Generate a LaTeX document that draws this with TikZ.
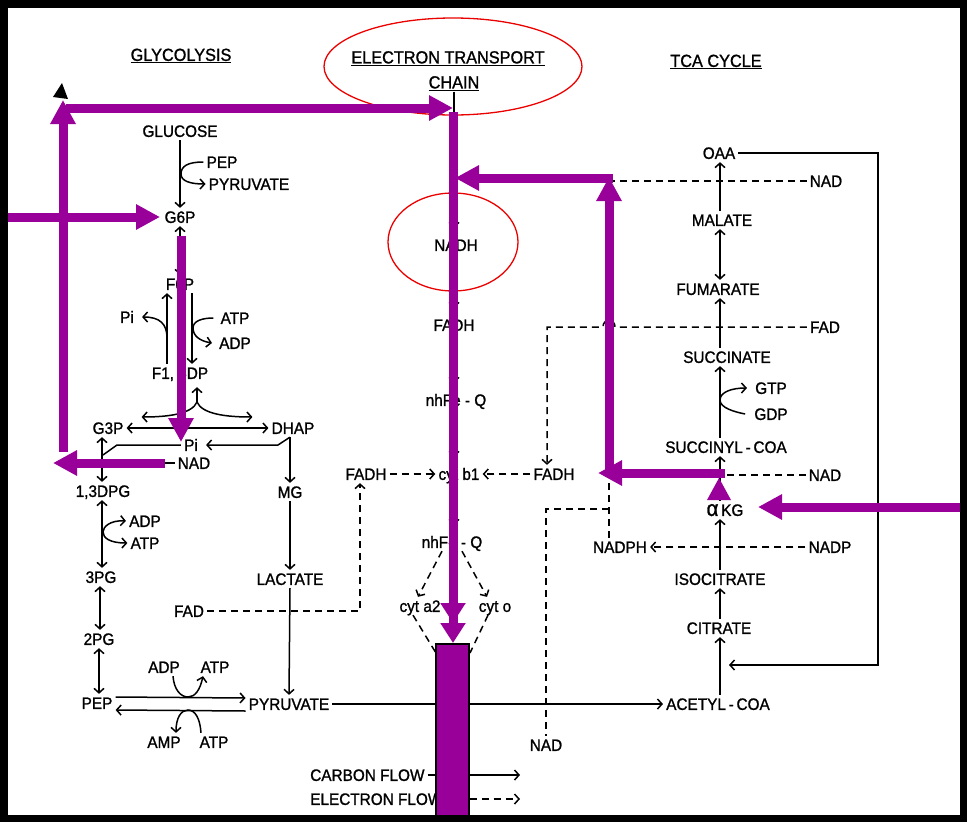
\documentclass[tikz,border=0pt]{standalone}
\usepackage{fontspec}
\setmainfont{Liberation Sans}
\newfontfamily\lblfont{Liberation Sans}[FakeBold=1.2,FakeStretch=0.93]
\usetikzlibrary{arrows.meta,calc}
\definecolor{pur}{RGB}{153,0,153}
\definecolor{ered}{RGB}{235,0,0}
\begin{document}
\begin{tikzpicture}[x=1pt,y=-1pt,line width=1.5pt,
  lbl/.style={inner sep=2.5pt,text height=11.8pt,text depth=0pt,font=\lblfont\fontsize{16.5}{18}\selectfont},
  ttl/.style={lbl,font=\lblfont\fontsize{17.5}{19}\selectfont},
  ar/.style={-{Straight Barb[length=4.5pt,width=10pt]}},
  lr/.style={{Straight Barb[length=4.5pt,width=10pt]}-{Straight Barb[length=4.5pt,width=10pt]}},
  dsh/.style={dash pattern=on 7pt off 5pt},
  parr/.style={line width=9pt,draw=pur,-{Triangle[length=24pt,width=24pt]}},
  ring/.style={draw=ered,line width=1.3pt}]
\useasboundingbox (0,0) rectangle (967,822);
% ---------- titles
\node[ttl] (glyc) at (181,55) {\underline{GLYCOLYSIS}};
\node[ttl] (etc1) at (448,57.5) {\underline{ELECTRON TRANSPORT}};
\node[ttl] (etc2) at (454,82.5) {\underline{CHAIN}};
\node[ttl] (tca) at (716,61) {\underline{TCA CYCLE}};
% ---------- glycolysis
\node[lbl] (glucose) at (180,131) {GLUCOSE};
\node[lbl] (pep1) at (222,162) {PEP};
\node[lbl] (pyr1) at (249,184) {PYRUVATE};
\node[lbl] (g6p) at (180,217) {G6P};
\node[lbl] (f6p) at (180,284) {F6P};
\node[lbl] (pi1) at (127,317) {Pi};
\node[lbl] (atp1) at (235,318) {ATP};
\node[lbl] (adp1) at (235,343) {ADP};
\node[lbl] (f16dp) at (180,373) {F1, 6DP};
\node[lbl] (g3p) at (108,428) {G3P};
\node[lbl] (dhap) at (293,428) {DHAP};
\node[lbl] (pi2) at (191,445) {Pi};
\node[lbl] (nad1) at (194,463) {NAD};
\node[lbl] (dpg13) at (103,491) {1,3DPG};
\node[lbl] (mg) at (290,492) {MG};
\node[lbl] (adp2) at (145,521) {ADP};
\node[lbl] (atp2) at (145,543) {ATP};
\node[lbl] (pg3) at (101,577) {3PG};
\node[lbl] (lact) at (290,579) {LACTATE};
\node[lbl] (fad1) at (189,611) {FAD};
\node[lbl] (pg2) at (99,639) {2PG};
\node[lbl] (adp3) at (164,667) {ADP};
\node[lbl] (atp3) at (215,667) {ATP};
\node[lbl] (pep2) at (97,703) {PEP};
\node[lbl] (pyr2) at (289,704) {PYRUVATE};
\node[lbl] (amp) at (164,742) {AMP};
\node[lbl] (atp4) at (214,742) {ATP};
% ---------- ETC
\node[lbl] (nadh) at (456,245) {NADH};
\node[lbl] (fadh1) at (454,325) {FADH};
\node[lbl] (nhfe1) at (456,400) {nhFe - Q};
\node[lbl] (cytb1) at (459,474) {cyt b1};
\node[lbl] (fadhL) at (366,474) {FADH};
\node[lbl] (fadhR) at (554,474) {FADH};
\node[lbl] (nhfe2) at (452,542) {nhFe - Q};
\node[lbl] (cyta2) at (420,606) {cyt a2};
\node[lbl] (cyto) at (495,606) {cyt o};
% ---------- TCA
\node[lbl] (oaa) at (719,153) {OAA};
\node[lbl] (nad2) at (826,181) {NAD};
\node[lbl] (malate) at (722,220) {MALATE};
\node[lbl] (fum) at (718,289) {FUMARATE};
\node[lbl] (fad2) at (825,327) {FAD};
\node[lbl] (succ) at (727,357) {SUCCINATE};
\node[lbl] (gtp) at (771,388) {GTP};
\node[lbl] (gdp) at (771,414) {GDP};
\node[lbl] (succoa) at (726,447) {SUCCINYL\,-\,COA};
\node[lbl] (nad3) at (825,475) {NAD};
\node[lbl] (akg) at (725,510) {{\fontsize{22}{22}\selectfont α}\,KG};
\node[lbl] (nadp) at (830,547) {NADP};
\node[lbl] (nadph) at (620,547) {NADPH};
\node[lbl] (isocit) at (720,579) {ISOCITRATE};
\node[lbl] (citrate) at (719,628) {CITRATE};
\node[lbl] (acoa) at (718,704) {ACETYL\,-\,COA};
\node[lbl] (nad4) at (546,745) {NAD};
% ---------- legend
\node[lbl,anchor=west] (carbon) at (307,775) {CARBON FLOW};
\node[lbl,anchor=west] (eflow) at (307,799) {ELECTRON FLOW};
\coordinate (c1) at (520,775);
\coordinate (c2) at (520,799);
% ---------- helper coordinates
\coordinate (ex) at (454,0);
\coordinate (tx) at (720,0);
\coordinate (cst) at (720,665);
\coordinate (boxtl) at (436,644);
\coordinate (boxtr) at (469,644);
% ---------- glycolysis connectors
\draw[ar] (glucose.south) -- (g6p.north);
\draw[ar] (pep1.west) .. controls (188,162) and (181,166) .. (181,174) .. controls (181,181) and (190,184) .. (pyr1.west);
\draw[lr] (g6p.south) -- (f6p.north);
\draw[ar] ([xshift=-13pt]f16dp.north) -- ([xshift=-13pt]f6p.south);
\draw[ar] (167,338) .. controls (167,324) and (160,317) .. ([xshift=5pt]pi1.east);
\draw[ar] ([xshift=12pt]f6p.south) -- ([xshift=12pt]f16dp.north);
\draw[ar] ([xshift=-4pt]atp1.west) .. controls (202,318) and (193,321) .. (193,328) .. controls (193,336) and (200,341) .. ([xshift=-4pt]adp1.west);
\draw[ar] (197,402) -- ([xshift=17pt,yshift=-5pt]f16dp.south);
\draw[ar] (197,402) .. controls (192,414) and (168,417) .. ([xshift=15pt,yshift=11pt]g3p.east);
\draw[ar] (197,402) .. controls (202,414) and (226,417) .. ([xshift=-16pt,yshift=11pt]dhap.west);
\draw[lr] (g3p.east) -- (dhap.west);
\draw[ar] ([xshift=-3pt]dhap.south) -- (278,445) -- ([xshift=5pt]pi2.east);
\draw[ar] ([xshift=-3pt]dhap.south) -- (mg.north);
\draw (pi2.west) -- (117,445) -- (103,455);
\draw (nad1.west) -- (103,463);
\draw[lr] ([xshift=-6pt]g3p.south) -- ([xshift=-1pt]dpg13.north);
\draw[lr] ([xshift=-1pt]dpg13.south) -- ([xshift=1pt]pg3.north);
\draw[lr] (adp2.west) .. controls (110,520) and (103,527) .. (103,532) .. controls (103,538) and (110,543) .. (atp2.west);
\draw[lr] ([xshift=-1pt]pg3.south) -- ([xshift=1pt]pg2.north);
\draw[lr] (pg2.south) -- ([xshift=2pt]pep2.north);
\draw[ar] ([yshift=6pt]pep2.east) -- ([yshift=6pt]pyr2.west);
\draw[ar] ([yshift=-7pt]pyr2.west) -- ([yshift=-7pt]pep2.east);
\draw[ar] ([xshift=9pt]adp3.south) .. controls (174,690) and (181,697) .. (188,697) .. controls (195,697) and (200,690) .. ([xshift=-12pt]atp3.south);
\draw[ar] ([xshift=-13pt]atp4.north) .. controls (200,718) and (195,710) .. (188,710) .. controls (181,710) and (176,718) .. ([xshift=12pt]amp.north);
\draw[ar] (mg.south) -- (lact.north);
\draw[ar] (lact.south) -- (pyr2.north);
\draw[ar,dsh] (fad1.east) -- (360,611) -- ([xshift=-6pt]fadhL.south);
\draw[ar] (pyr2.east) -- (acoa.west);
% ---------- ETC connectors
\draw[ar,shorten >=8pt] (etc2.south -| ex) -- (nadh.north -| ex);
\draw[ar,shorten >=8pt] (nadh.south -| ex) -- (fadh1.north -| ex);
\draw[ar,shorten >=8pt] (fadh1.south -| ex) -- (nhfe1.north -| ex);
\draw[ar,shorten >=8pt] (nhfe1.south -| ex) -- (cytb1.north -| ex);
\draw[ar,shorten >=8pt] (cytb1.south -| ex) -- (nhfe2.north -| ex);
\draw[ar,dsh] (fadhL.east) -- (cytb1.west);
\draw[ar,dsh] (fadhR.west) -- (cytb1.east);
\draw[ar,dsh] ([xshift=-10pt]nhfe2.south) -- ([xshift=-2pt]cyta2.north);
\draw[ar,dsh] ([xshift=10pt]nhfe2.south) -- ([xshift=-8pt]cyto.north);
\draw[dsh] ([xshift=-7pt]cyta2.south) -- ([yshift=-9pt]boxtl);
\draw[dsh] ([xshift=-7pt]cyto.south) -- ([yshift=-9pt,xshift=1pt]boxtr);
% ---------- TCA connectors
\draw[ar] (oaa.east) -- (878,153) -- (878,665) -- ([xshift=9pt]cst);
\draw[dsh] (nad2.west) -- (612,181);
\draw[ar] (malate.north -| tx) -- (oaa.south -| tx);
\draw[lr] (malate.south -| tx) -- (fum.north -| tx);
\draw[ar] (succ.north -| tx) -- (fum.south -| tx);
\draw[ar,dsh] (fad2.west) -- (615,327) .. controls (615,318) and (603,318) .. (603,327) -- (547,327) -- ([xshift=-7pt]fadhR.north);
\draw[ar] (succoa.north -| tx) -- (succ.south -| tx);
\draw[ar] ([xshift=-6pt]gdp.west) .. controls (735,412) and (720,408) .. (720,400) .. controls (720,392) and (732,388) .. ([xshift=-5pt]gtp.west);
\draw[ar] (akg.north -| tx) -- (succoa.south -| tx);
\draw[dsh] (nad3.west) -- (612,475);
\draw[ar] (isocit.north -| tx) -- (akg.south -| tx);
\draw[ar,dsh] (nadp.west) -- (nadph.east);
\draw[ar] (citrate.north -| tx) -- (isocit.south -| tx);
\draw[ar] (acoa.north -| tx) -- (citrate.south -| tx);
\draw[dsh] ([xshift=-11pt]nadph.north) -- (609,478);
\draw[dsh] (609,509) -- (546,509) -- (nad4.north);
% ---------- legend arrows
\draw[ar] (carbon.east) -- (c1);
\draw[ar,dsh] (eflow.east) -- (c2);
% ---------- red rings
\draw[ring] (453,66.5) ellipse [x radius=129, y radius=48.5];
\draw[ring] (453,242) ellipse [x radius=65, y radius=49];
% ---------- purple overlay
\fill (62,83) -- (53,97) -- (68,99) -- cycle;
\draw[parr] (63,452) -- (63,100);
\draw[parr] (66,108) -- (453,108);
\draw[parr] (8,217) -- (160,217);
\draw[parr] (181,236) -- (181,442);
\draw[parr] (165,463) -- (53,463);
\draw[line width=9pt,draw=pur,-{Triangle[length=20pt,width=24pt]Triangle[length=20pt,width=24pt]}] (453,112) -- (453,643);
\draw[parr] (613,178) -- (455,178);
\draw[parr] (609,477) -- (609,177);
\draw[parr] (725,473) -- (598,473);
\fill[pur] (719,478) -- (707,500) -- (731,500) -- cycle;
\draw[parr] (962,507) -- (758,507);
\filldraw[fill=pur,draw=black,line width=2pt] (boxtl) rectangle (469,816);
% ---------- frame
\draw[line width=7.5pt] (3.75,3.75) rectangle (963.25,818.25);
\end{tikzpicture}
\end{document}
